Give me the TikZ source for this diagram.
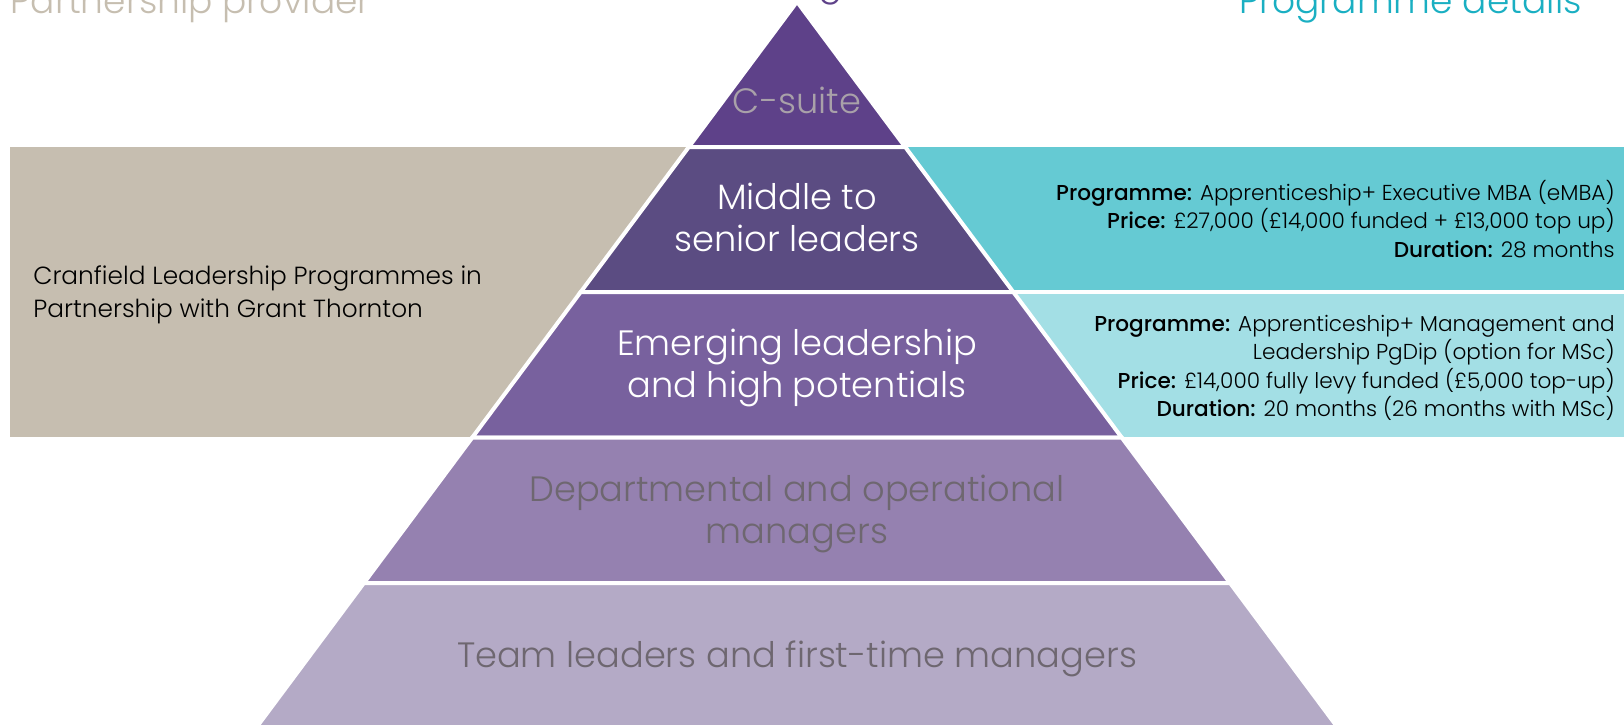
\documentclass[tikz,border=0pt]{standalone}
\usepackage{fontspec}
\setmainfont{Poppins}
\newfontfamily\lightfont{Poppins Light}
\newfontfamily\mediumfont{Poppins Medium}
\newcommand{\fieldname}[1]{{\mediumfont #1}}
\usetikzlibrary{positioning}

\definecolor{sand}{HTML}{C6BEB0}
\definecolor{tealdark}{HTML}{65CAD3}
\definecolor{teallight}{HTML}{A3DFE5}
\definecolor{tealhead}{HTML}{1AAFC2}
\definecolor{csuite}{HTML}{5E4189}
\definecolor{middle}{HTML}{5B4C82}
\definecolor{emerging}{HTML}{78619E}
\definecolor{depart}{HTML}{9581B0}
\definecolor{team}{HTML}{B4AAC6}
\definecolor{lightgrey}{HTML}{A9A1A9}
\definecolor{darkgrey}{HTML}{6E6770}

\tikzset{
  tier/.style={fill=#1, draw=white, line width=2pt, line join=miter},
  level/.style={font=\lightfont\fontsize{17.6}{21}\selectfont, align=center, inner sep=0pt},
  heading/.style={font=\lightfont\fontsize{18}{21}\selectfont, inner sep=0pt},
  partner/.style={font=\lightfont\fontsize{12.4}{16.5}\selectfont, align=left, inner sep=0pt},
  detail/.style={font=\lightfont\fontsize{10.8}{14.25}\selectfont, align=right, inner sep=0pt},
}

\begin{document}
\begin{tikzpicture}[x=0.5pt, y=-0.5pt]
\useasboundingbox (0,0) rectangle (1624,725);

% column headings (cut by the top edge)
\node[heading, text=sand, anchor=base west] (lefthead) at (10,13) {Partnership provider};
\node[heading, text=csuite, anchor=base east] (midhead) at (866,-5) {Career stage};
\node[heading, text=tealhead, anchor=base east] (righthead) at (1582,13) {Programme details};

% side panels
\fill[sand] (10,147) rectangle (800,437);
\fill[tealdark] (800,147) rectangle (1624,290);
\fill[teallight] (800,294) rectangle (1624,437);

% pyramid
\filldraw[tier=csuite] (797,1.7) -- (905.2,147) -- (688.8,147) -- cycle;
\filldraw[tier=middle] (688.8,147) -- (905.2,147) -- (1013.3,292) -- (580.7,292) -- cycle;
\filldraw[tier=emerging] (580.7,292) -- (1013.3,292) -- (1121.7,437.5) -- (472.3,437.5) -- cycle;
\filldraw[tier=depart] (472.3,437.5) -- (1121.7,437.5) -- (1230.1,583) -- (363.9,583) -- cycle;
\filldraw[tier=team] (363.9,583) -- (1230.1,583) -- (1337.3,727) -- (256.7,727) -- cycle;

% level labels
\node[level, text=lightgrey] (csuitelbl) at (797,100) {C-suite};
\node[level, text=white] (middlelbl) at (797,217) {Middle to\\senior leaders};
\node[level, text=white] (emerginglbl) at (797,368) {Emerging leadership\\and high potentials};
\node[level, text=darkgrey] (departlbl) at (797,514) {Departmental and operational\\managers};
\node[level, text=darkgrey] (teamlbl) at (797,659) {Team leaders and first-time managers};

% panel texts
\node[partner, anchor=west] (provider) at (33,295)
  {Cranfield Leadership Programmes in\\Partnership with Grant Thornton};
\node[detail, anchor=east] (emba) at (1615,219)
  {\fieldname{Programme:} Apprenticeship+ Executive MBA (eMBA)\\
   \fieldname{Price:} £27,000 (£14,000 funded + £13,000 top up)\\
   \fieldname{Duration:} 28 months};
\node[detail, anchor=east] (pgdip) at (1615,368)
  {\fieldname{Programme:} Apprenticeship+ Management and\\
   Leadership PgDip (option for MSc)\\
   \fieldname{Price:} £14,000 fully levy funded (£5,000 top-up)\\
   \fieldname{Duration:} 20 months (26 months with MSc)};

\end{tikzpicture}
\end{document}
